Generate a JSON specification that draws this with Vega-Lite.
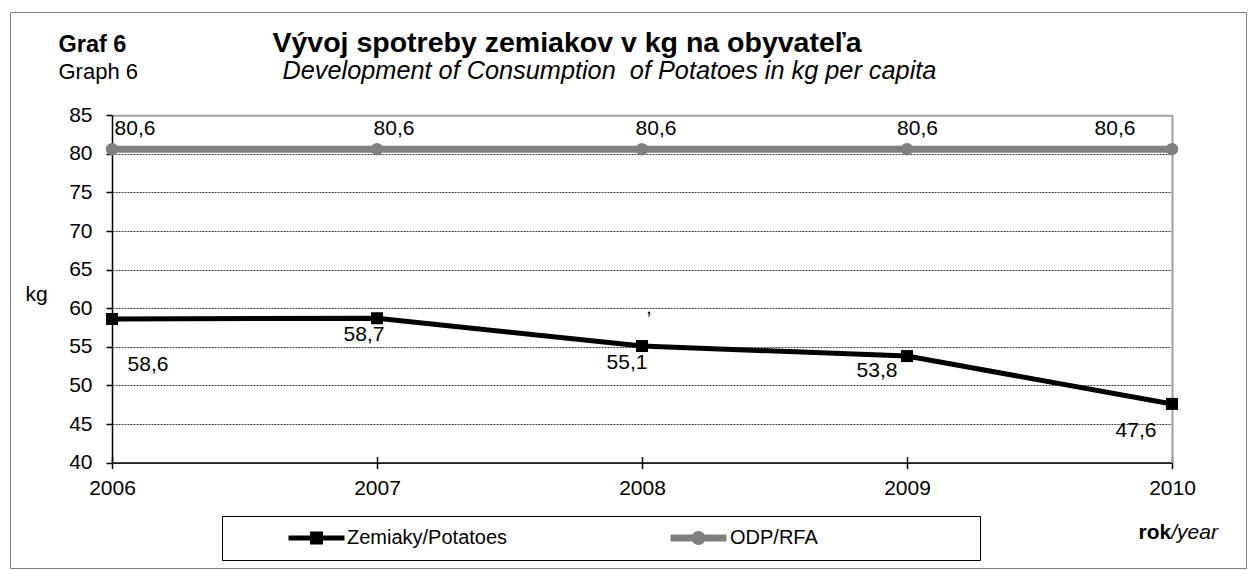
{
  "$schema": "https://vega.github.io/schema/vega-lite/v6.json",
  "width": 1236,
  "height": 556,
  "autosize": {"type": "none"},
  "padding": {"left": 10, "top": 12, "right": 9, "bottom": 2},
  "background": "white",
  "config": {
    "font": "Liberation Sans",
    "locale": {"number": {"decimal": ",", "thousands": "\u00a0", "grouping": [3], "currency": ["", "\u00a0€"]}},
    "view": {"stroke": "#7f7f7f", "strokeWidth": 1},
    "axis": {
      "grid": false, "domain": false, "ticks": false, "labels": false,
      "labelFont": "Liberation Sans", "titleFont": "Liberation Sans",
      "titleColor": "#000000", "labelColor": "#000000",
      "titleAngle": 0, "titleAlign": "left", "titleBaseline": "alphabetic",
      "titleLimit": 3000, "titlePadding": 0
    },
    "text": {"font": "Liberation Sans", "fontSize": 21, "color": "#000000"}
  },
  "datasets": {
    "consumption": [
      {"series": "Zemiaky/Potatoes", "year": 2006, "value": 58.6},
      {"series": "Zemiaky/Potatoes", "year": 2007, "value": 58.7},
      {"series": "Zemiaky/Potatoes", "year": 2008, "value": 55.1},
      {"series": "Zemiaky/Potatoes", "year": 2009, "value": 53.8},
      {"series": "Zemiaky/Potatoes", "year": 2010, "value": 47.6},
      {"series": "ODP/RFA", "year": 2006, "value": 80.6},
      {"series": "ODP/RFA", "year": 2007, "value": 80.6},
      {"series": "ODP/RFA", "year": 2008, "value": 80.6},
      {"series": "ODP/RFA", "year": 2009, "value": 80.6},
      {"series": "ODP/RFA", "year": 2010, "value": 80.6}
    ],
    "note": [
      {"year": 2008, "value": 60, "label": ","}
    ]
  },
  "data": {"name": "consumption"},
  "resolve": {"axis": {"x": "independent", "y": "independent"}},
  "layer": [
    {
      "mark": {"type": "line", "strokeCap": "butt", "strokeJoin": "miter"},
      "encoding": {
        "x": {
          "field": "year", "type": "quantitative",
          "scale": {"domain": [2006, 2010], "range": [102, 1162], "nice": false, "zero": false},
          "axis": {
            "orient": "bottom", "offset": -105.4,
            "domain": true, "domainColor": "#000000", "domainWidth": 1.5,
            "ticks": true, "tickColor": "#000000", "tickWidth": 1.5, "tickSize": 6,
            "labels": true, "values": [2006, 2007, 2008, 2009, 2010], "format": "d",
            "labelFontSize": 21, "labelPadding": 9, "labelFlush": false, "labelOverlap": false,
            "title": "rok", "titleFontSize": 21, "titleFontWeight": "bold",
            "titleX": 1128, "titleY": 75.4
          }
        },
        "y": {
          "field": "value", "type": "quantitative",
          "scale": {"domain": [40, 85], "range": [450.6, 103.2], "nice": false, "zero": false},
          "axis": {
            "orient": "left", "offset": -102,
            "domain": true, "domainColor": "#000000", "domainWidth": 1.5,
            "ticks": true, "tickColor": "#000000", "tickWidth": 1.5, "tickSize": 6,
            "labels": true, "values": [40, 45, 50, 55, 60, 65, 70, 75, 80, 85], "format": "d",
            "labelFontSize": 21, "labelPadding": 14, "labelOverlap": false, "labelFlush": false,
            "grid": true, "gridColor": "#404040", "gridDash": [2, 1], "gridWidth": 1,
            "title": "kg", "titleFontSize": 21, "titleFontWeight": "normal",
            "titleX": -87, "titleY": 288
          }
        },
        "color": {
          "field": "series", "type": "nominal",
          "scale": {"domain": ["Zemiaky/Potatoes", "ODP/RFA"], "range": ["#000000", "#808080"]},
          "legend": {
            "orient": "none", "legendX": 212, "legendY": 504, "direction": "horizontal", "title": null,
            "strokeColor": "#000000", "fillColor": "#ffffff", "padding": 12,
            "symbolSize": 3136, "symbolType": "M-1,0H1", "symbolStrokeWidth": 5,
            "clipHeight": 20,
            "symbolOffset": 52, "labelOffset": 0, "columnPadding": 107,
            "labelFontSize": 20, "labelColor": "#000000", "labelLimit": 800, "labelFont": "Liberation Sans",
            "labelExpr": "datum.label == 'ODP/RFA' ? datum.label + '\u00a0\u00a0\u00a0\u00a0\u00a0\u00a0\u00a0\u00a0\u00a0\u00a0\u00a0\u00a0\u00a0\u00a0\u00a0\u00a0\u00a0\u00a0\u00a0\u00a0\u00a0\u00a0\u00a0\u00a0\u00a0\u00a0\u00a0\u200b' : datum.label",
            "encode": {
              "symbols": {
                "update": {
                  "shape": {"signal": "datum.value === 'ODP/RFA' ? 'M-1,0H1M0.125,0A0.125,0.125,0,1,1,-0.125,0A0.125,0.125,0,1,1,0.125,0Z' : 'M-1,0H1M-0.143,-0.143H0.143V0.143H-0.143Z'"},
                  "fill": {"signal": "datum.value === 'ODP/RFA' ? '#808080' : '#000000'"},
                  "stroke": {"signal": "datum.value === 'ODP/RFA' ? '#808080' : '#000000'"},
                  "strokeWidth": {"signal": "datum.value === 'ODP/RFA' ? 7 : 5"},
                  "opacity": {"value": 1}
                }
              }
            }
          }
        },
        "strokeWidth": {
          "field": "series", "type": "nominal",
          "scale": {"domain": ["Zemiaky/Potatoes", "ODP/RFA"], "range": [5, 7]},
          "legend": null
        }
      }
    },
    {
      "transform": [{"filter": "datum.series === 'ODP/RFA'"}],
      "mark": {"type": "point", "shape": "circle", "filled": true, "size": 154, "color": "#808080", "opacity": 1, "strokeWidth": 0},
      "encoding": {
        "x": {
          "field": "year", "type": "quantitative",
          "axis": {
            "orient": "top", "offset": -103.2,
            "domain": true, "domainColor": "#a0a0a0", "domainWidth": 2,
            "title": "Vývoj spotreby zemiakov v kg na obyvateľa",
            "titleFontSize": 28.5, "titleFontWeight": "bold",
            "titleX": 262, "titleY": -64.2
          }
        },
        "y": {
          "field": "value", "type": "quantitative",
          "axis": {
            "orient": "right", "offset": -74,
            "domain": true, "domainColor": "#a0a0a0", "domainWidth": 2,
            "title": "Graf 6", "titleFontSize": 23.5, "titleFontWeight": "bold",
            "titleX": -1114, "titleY": 39
          }
        }
      }
    },
    {
      "transform": [{"filter": "datum.series === 'Zemiaky/Potatoes'"}],
      "mark": {"type": "point", "shape": "square", "filled": true, "size": 144, "color": "#000000", "opacity": 1, "strokeWidth": 0},
      "encoding": {
        "x": {
          "field": "year", "type": "quantitative",
          "axis": {
            "orient": "bottom", "offset": 0,
            "title": "/year", "titleFontSize": 21, "titleFontWeight": "normal", "titleFontStyle": "italic",
            "titleX": 1160.7, "titleY": -30
          }
        },
        "y": {
          "field": "value", "type": "quantitative",
          "axis": {
            "orient": "left", "offset": 0,
            "title": "Graph 6", "titleFontSize": 22, "titleFontWeight": "normal",
            "titleX": 48, "titleY": 66
          }
        }
      }
    },
    {
      "transform": [{"filter": "datum.series === 'ODP/RFA' && datum.year === 2006"}],
      "mark": {"type": "text", "dx": 23, "dy": -20},
      "encoding": {
        "x": {
          "field": "year", "type": "quantitative",
          "axis": {
            "orient": "top", "offset": 0,
            "title": "Development of Consumption\u00a0 of Potatoes in kg per capita",
            "titleFontSize": 25.3, "titleFontWeight": "normal", "titleFontStyle": "italic",
            "titleX": 272, "titleY": 66
          }
        },
        "y": {"field": "value", "type": "quantitative", "axis": null},
        "text": {"field": "value", "type": "quantitative", "format": ".1f"}
      }
    },
    {
      "transform": [{"filter": "datum.series === 'ODP/RFA' && datum.year === 2007"}],
      "mark": {"type": "text", "dx": 17, "dy": -20},
      "encoding": {
        "x": {"field": "year", "type": "quantitative", "axis": null},
        "y": {"field": "value", "type": "quantitative", "axis": null},
        "text": {"field": "value", "type": "quantitative", "format": ".1f"}
      }
    },
    {
      "transform": [{"filter": "datum.series === 'ODP/RFA' && datum.year === 2008"}],
      "mark": {"type": "text", "dx": 14, "dy": -20},
      "encoding": {
        "x": {"field": "year", "type": "quantitative", "axis": null},
        "y": {"field": "value", "type": "quantitative", "axis": null},
        "text": {"field": "value", "type": "quantitative", "format": ".1f"}
      }
    },
    {
      "transform": [{"filter": "datum.series === 'ODP/RFA' && datum.year === 2009"}],
      "mark": {"type": "text", "dx": 10.5, "dy": -20},
      "encoding": {
        "x": {"field": "year", "type": "quantitative", "axis": null},
        "y": {"field": "value", "type": "quantitative", "axis": null},
        "text": {"field": "value", "type": "quantitative", "format": ".1f"}
      }
    },
    {
      "transform": [{"filter": "datum.series === 'ODP/RFA' && datum.year === 2010"}],
      "mark": {"type": "text", "dx": -57, "dy": -20},
      "encoding": {
        "x": {"field": "year", "type": "quantitative", "axis": null},
        "y": {"field": "value", "type": "quantitative", "axis": null},
        "text": {"field": "value", "type": "quantitative", "format": ".1f"}
      }
    },
    {
      "transform": [{"filter": "datum.series === 'Zemiaky/Potatoes' && datum.year === 2006"}],
      "mark": {"type": "text", "dx": 36, "dy": 46},
      "encoding": {
        "x": {"field": "year", "type": "quantitative", "axis": null},
        "y": {"field": "value", "type": "quantitative", "axis": null},
        "text": {"field": "value", "type": "quantitative", "format": ".1f"}
      }
    },
    {
      "transform": [{"filter": "datum.series === 'Zemiaky/Potatoes' && datum.year === 2007"}],
      "mark": {"type": "text", "dx": -13, "dy": 16.4},
      "encoding": {
        "x": {"field": "year", "type": "quantitative", "axis": null},
        "y": {"field": "value", "type": "quantitative", "axis": null},
        "text": {"field": "value", "type": "quantitative", "format": ".1f"}
      }
    },
    {
      "transform": [{"filter": "datum.series === 'Zemiaky/Potatoes' && datum.year === 2008"}],
      "mark": {"type": "text", "dx": -15, "dy": 17.4},
      "encoding": {
        "x": {"field": "year", "type": "quantitative", "axis": null},
        "y": {"field": "value", "type": "quantitative", "axis": null},
        "text": {"field": "value", "type": "quantitative", "format": ".1f"}
      }
    },
    {
      "transform": [{"filter": "datum.series === 'Zemiaky/Potatoes' && datum.year === 2009"}],
      "mark": {"type": "text", "dx": -30, "dy": 15},
      "encoding": {
        "x": {"field": "year", "type": "quantitative", "axis": null},
        "y": {"field": "value", "type": "quantitative", "axis": null},
        "text": {"field": "value", "type": "quantitative", "format": ".1f"}
      }
    },
    {
      "transform": [{"filter": "datum.series === 'Zemiaky/Potatoes' && datum.year === 2010"}],
      "mark": {"type": "text", "dx": -36, "dy": 27.2},
      "encoding": {
        "x": {"field": "year", "type": "quantitative", "axis": null},
        "y": {"field": "value", "type": "quantitative", "axis": null},
        "text": {"field": "value", "type": "quantitative", "format": ".1f"}
      }
    },
    {
      "data": {"name": "note"},
      "mark": {"type": "text", "dx": 7, "dy": 0},
      "encoding": {
        "x": {
          "field": "year", "type": "quantitative",
          "axis": {
            "orient": "bottom", "offset": -111.4,
            "ticks": true, "tickColor": "#000000", "tickWidth": 1.5, "tickSize": 6,
            "values": [2006, 2007, 2008, 2009, 2010], "title": null
          }
        },
        "y": {"field": "value", "type": "quantitative", "axis": null},
        "text": {"field": "label", "type": "nominal"}
      }
    }
  ]
}
